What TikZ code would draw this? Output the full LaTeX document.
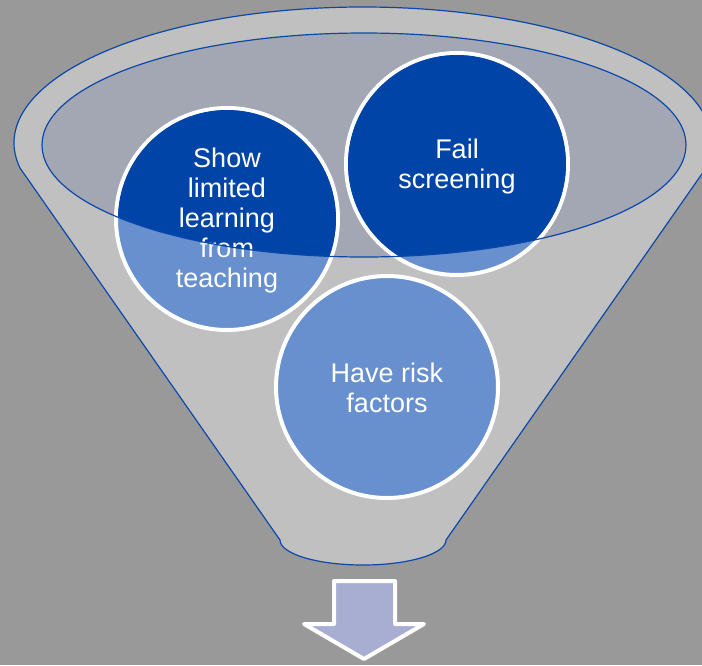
\documentclass[tikz,border=0pt]{standalone}
\usepackage{fontspec}
\setmainfont{Liberation Sans}
\usepackage{tikz}
\usetikzlibrary{positioning,calc}
\definecolor{bggray}{RGB}{153,153,153}
\definecolor{funnelgray}{RGB}{192,192,192}
\definecolor{rimgray}{RGB}{163,166,179}
\definecolor{edgeblue}{RGB}{12,72,170}
\definecolor{darkblob}{RGB}{0,68,168}
\definecolor{lightblob}{RGB}{104,143,206}
\definecolor{arrowfill}{RGB}{168,174,210}
\begin{document}
\begin{tikzpicture}[x=1pt,y=-1pt,
  blob/.style={circle,draw=white,line width=4pt,fill=lightblob,minimum size=222pt,inner sep=0pt},
  blobtext/.style={text=white,align=center,font=\fontsize{27}{30}\selectfont},
  edge/.style={draw=edgeblue,line width=1.2pt}]
\fill[bggray] (0,0) rectangle (702,665);
\useasboundingbox (0,0) rectangle (702,665);
\filldraw[fill=funnelgray,edge] (20,168) arc[start angle=169.4,end angle=370.6,x radius=349,y radius=136]
  -- (446,540) arc[start angle=0,end angle=180,x radius=83,y radius=25] -- cycle;
\fill[rimgray] (364,145) ellipse[x radius=322,y radius=112];
\node[blob] (show) at (227,219) {};
\node[blob] (fail) at (457,164) {};
\node[blob] (risk) at (387,387) {};
\begin{scope}
\clip (364,145) ellipse[x radius=322,y radius=112];
\fill[darkblob] (show.center) circle(109);
\fill[darkblob] (fail.center) circle(109);
\fill[darkblob] (risk.center) circle(109);
\end{scope}
\node[blobtext] (showtxt) at ([yshift=-2pt]show) {Show\\limited\\learning\\from\\teaching};
\node[blobtext] (failtxt) at ([yshift=-3pt]fail) {Fail\\screening};
\node[blobtext] (risktxt) at ([yshift=-1pt]risk) {Have risk\\factors};
\draw[edge] (364,145) ellipse[x radius=322,y radius=112];
\filldraw[fill=arrowfill,draw=white,line width=4pt,line join=round]
  (334,581) -- (395,581) -- (395,624) -- (424,624) -- (364,659) -- (304,624) -- (334,624) -- cycle;
\end{tikzpicture}
\end{document}
